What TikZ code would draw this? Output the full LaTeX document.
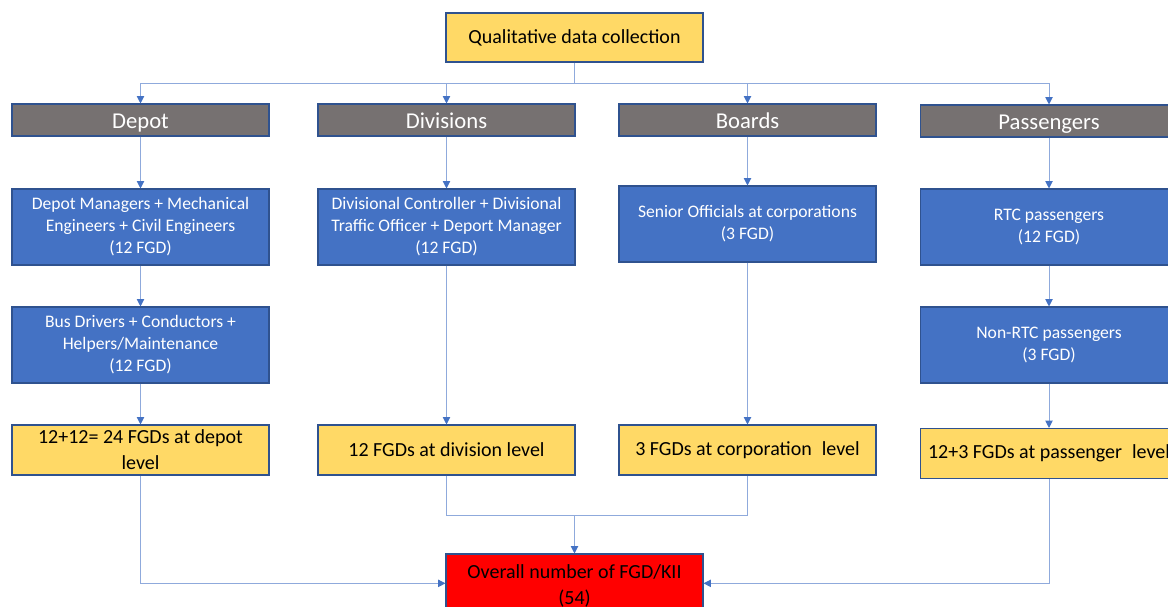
\documentclass[tikz,border=0pt]{standalone}
\usepackage{fontspec}
\setmainfont{Carlito}
\usetikzlibrary{arrows.meta}
\definecolor{boxblue}{HTML}{4472C4}
\definecolor{edgeblue}{HTML}{2F528F}
\definecolor{hdrgray}{HTML}{767171}
\definecolor{ylw}{HTML}{FFD966}
\definecolor{lineblue}{HTML}{8FAADC}
\definecolor{tipblue}{HTML}{4472C4}
\begin{document}
\begin{tikzpicture}[x=0.75pt,y=-0.75pt,
 base/.style={draw=edgeblue, line width=0.8pt, minimum width=192.75pt, align=center, inner sep=2pt},
 hdr/.style={base, fill=hdrgray, text=white, minimum height=24pt, inner ysep=1pt, text height=15pt, text depth=2pt, font=\fontsize{17}{20}\selectfont},
 bluebox/.style={base, fill=boxblue, text=white, minimum height=57pt, font=\fontsize{13.2}{16.5}\selectfont},
 ybox/.style={base, fill=ylw, minimum height=37.5pt, font=\fontsize{15}{19.5}\selectfont},
 topbox/.style={base, fill=ylw, minimum height=36.75pt, font=\fontsize{15}{19.5}\selectfont},
 redbox/.style={base, fill=red, minimum height=48pt, font=\fontsize{15}{19}\selectfont},
 conn/.style={draw=lineblue, line width=0.75pt, -{Triangle[length=5.5pt,width=5.5pt,color=tipblue]}},
 plain/.style={draw=lineblue, line width=0.75pt}]
\useasboundingbox (0,0) rectangle (1168,607);
\clip (0,0) rectangle (1168,607);
\fill[white] (0,0) rectangle (1168,607);

\node[topbox] (top) at (574.5,37.5) {Qualitative data collection};

\node[hdr] (depot) at (140.5,120) {Depot};
\node[hdr] (div) at (446.5,120) {Divisions};
\node[hdr] (brd) at (747.5,120) {Boards};
\node[hdr] (pas) at (1049,121) {Passengers};

\node[bluebox] (dm) at (140.5,227) {Depot Managers + Mechanical\\Engineers + Civil Engineers\\(12 FGD)};
\node[bluebox] (dc) at (446.5,227) {Divisional Controller + Divisional\\Traffic Officer + Deport Manager\\(12 FGD)};
\node[bluebox] (so) at (747.5,224) {Senior Officials at corporations\\(3 FGD)};
\node[bluebox] (rtc) at (1049,227) {RTC passengers\\(12 FGD)};

\node[bluebox] (bd) at (140.5,345) {Bus Drivers + Conductors +\\Helpers/Maintenance\\(12 FGD)};
\node[bluebox] (nrtc) at (1049,345) {Non-RTC passengers\\(3 FGD)};

\node[ybox] (ydep) at (140.5,450) {12+12= 24 FGDs at depot\\level};
\node[ybox] (ydiv) at (446.5,450) {12 FGDs at division level};
\node[ybox] (ybrd) at (747.5,450) {3 FGDs at corporation\enspace level};
\node[ybox] (ypas) at (1049,453.5) {12+3 FGDs at passenger\enspace level};

\node[redbox] (tot) at (574.5,586) {Overall number of FGD/KII\\(54)};

\draw[plain] (top.south) -- ++(0,21) coordinate (j);
\draw[conn] (j) -| (depot.north);
\draw[conn] (j) -| (div.north);
\draw[conn] (j) -| (brd.north);
\draw[conn] (j) -| (pas.north);

\draw[conn] (depot) -- (dm);
\draw[conn] (dm) -- (bd);
\draw[conn] (bd) -- (ydep);
\draw[conn] (div) -- (dc);
\draw[conn] (dc) -- (ydiv);
\draw[conn] (brd) -- (so);
\draw[conn] (so) -- (ybrd);
\draw[conn] (pas) -- (rtc);
\draw[conn] (rtc) -- (nrtc);
\draw[conn] (nrtc) -- (ypas);

\draw[plain] (ydiv.south) -- ++(0,40) coordinate (m1) -| (ybrd.south);
\draw[conn] (m1 -| tot.north) -- (tot.north);
\draw[conn] (ydep.south) |- ([yshift=2]tot.west);
\draw[conn] (ypas.south) |- ([yshift=2]tot.east);
\end{tikzpicture}
\end{document}
